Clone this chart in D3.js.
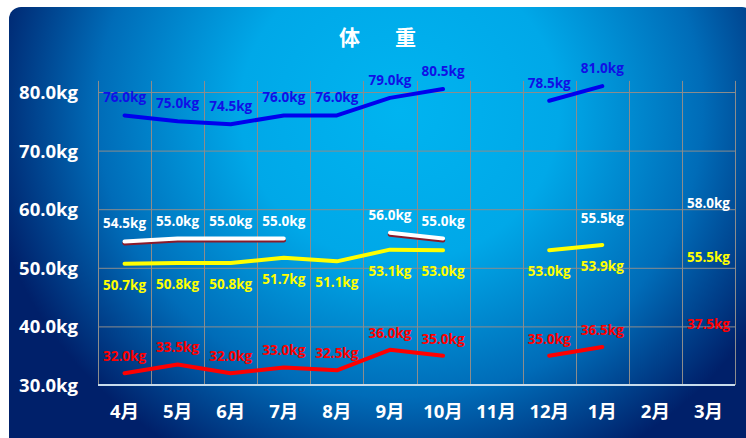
<!DOCTYPE html>
<html><head><meta charset="utf-8">
<script src="https://cdn.jsdelivr.net/npm/d3@7"></script>
<style>html,body{margin:0;padding:0;background:#fff;}svg{display:block;}</style>
</head><body>
<svg id="c" width="746" height="438"></svg>
<script>
const months = ["4月","5月","6月","7月","8月","9月","10月","11月","12月","1月","2月","3月"];
const blueVals   = [76.0,75.0,74.5,76.0,76.0,79.0,80.5,null,78.5,81.0,null,null];
const whiteVals  = [54.5,55.0,55.0,55.0,null,56.0,55.0,null,null,55.5,null,58.0];
const yellowVals = [50.7,50.8,50.8,51.7,51.1,53.1,53.0,null,53.0,53.9,null,55.5];
const redVals    = [32.0,33.5,32.0,33.0,32.5,36.0,35.0,null,35.0,36.5,null,37.5];
const yTicks = [30,40,50,60,70,80];
const title = "体　重";

const svg = d3.select("#c");
const defs = svg.append("defs");
const g = defs.append("radialGradient").attr("id","bg")
  .attr("gradientUnits","userSpaceOnUse")
  .attr("cx",400).attr("cy",110).attr("r",420)
  .attr("gradientTransform","translate(400,110) scale(1,0.95) translate(-400,-110)");
g.append("stop").attr("offset","0").attr("stop-color","#00b4f0");
g.append("stop").attr("offset","0.38").attr("stop-color","#00a8e8");
g.append("stop").attr("offset","0.72").attr("stop-color","#006cb8");
g.append("stop").attr("offset","1").attr("stop-color","#00206a");

svg.append("rect").attr("x",9).attr("y",7).attr("width",745).attr("height",445)
  .attr("rx",12).attr("fill","url(#bg)");

const font = "'Open Sans','Noto Sans','Noto Sans CJK SC',sans-serif";

const x = d3.scaleBand().domain(months).range([98,735]).padding(0);
const y = d3.scaleLinear().domain([30,80]).range([385,92]);
const plotTop = y(81.9);

// grid
const grid = svg.append("g");
grid.selectAll("line.h").data(yTicks.filter(d=>d>30)).enter().append("line")
  .attr("x1",98).attr("x2",735).attr("y1",d=>y(d)+0.5).attr("y2",d=>y(d)+0.5)
  .attr("stroke","#8c8c8c").attr("stroke-width",1);
const bounds = months.map(m=>x(m)).concat([x.range()[1]]);
grid.selectAll("line.v").data(bounds).enter().append("line")
  .attr("x1",d=>Math.round(d)+0.5).attr("x2",d=>Math.round(d)+0.5).attr("y1",plotTop).attr("y2",385)
  .attr("stroke","#8c8c8c").attr("stroke-width",1);
grid.append("line").attr("x1",98).attr("x2",735).attr("y1",385).attr("y2",385)
  .attr("stroke","#c8dcec").attr("stroke-width",2);

// y axis labels
svg.append("g").selectAll("text").data(yTicks).enter().append("text")
  .attr("x",78).attr("y",d=>y(d)+7).attr("text-anchor","end")
  .attr("font-family",font).attr("font-weight","bold").attr("font-size",18.5)
  .attr("fill","#ffffff").text(d=>d.toFixed(1)+"kg");

// x axis labels
svg.append("g").selectAll("text").data(months).enter().append("text")
  .attr("x",d=>x(d)+x.bandwidth()/2).attr("y",418).attr("text-anchor","middle")
  .attr("font-family",font).attr("font-weight","bold").attr("font-size",18.5)
  .attr("fill","#ffffff").text(d=>d);

// title
svg.append("text").attr("x",381).attr("y",45).attr("text-anchor","middle")
  .attr("font-family",font).attr("font-weight","bold").attr("font-size",21)
  .attr("fill","#ffffff").attr("letter-spacing","7px").text(title);

const cx = i => x(months[i]) + x.bandwidth()/2;
const lineFor = vals => d3.line()
  .defined((d,i)=>d!=null && (vals[i-1]!=null || vals[i+1]!=null))
  .x((d,i)=>cx(i)).y(d=>y(d))(vals);

const series = [
  {vals: redVals, color:"#ff0000", text:"#ff0000", dy:-12},
  {vals: yellowVals, color:"#ffff00", text:"#ffff00", dy:26},
  {vals: whiteVals, color:"#ffffff", text:"#ffffff", dy:-13, shadow:true},
  {vals: blueVals, color:"#0000ee", text:"#1010e6", dy:-13},
];

series.forEach(s=>{
  if (s.shadow) {
    svg.append("path").attr("d",lineFor(s.vals)).attr("fill","none")
      .attr("stroke","#8a1a2a").attr("stroke-width",4.5).attr("stroke-linecap","round")
      .attr("stroke-linejoin","round").attr("transform","translate(0,1.8)");
  }
  svg.append("path").attr("d",lineFor(s.vals)).attr("fill","none")
    .attr("stroke",s.color).attr("stroke-width",4).attr("stroke-linecap","round")
    .attr("stroke-linejoin","round");
});

series.forEach(s=>{
  svg.append("g").selectAll("text").data(s.vals.map((v,i)=>({v,i})).filter(d=>d.v!=null))
    .enter().append("text")
    .attr("x",d=>cx(d.i)).attr("y",d=>y(d.v)+s.dy).attr("text-anchor","middle")
    .attr("font-family",font).attr("font-weight","bold").attr("font-size",13.5)
    .attr("fill",s.text).text(d=>d.v.toFixed(1)+"kg");
});
</script>
</body></html>
